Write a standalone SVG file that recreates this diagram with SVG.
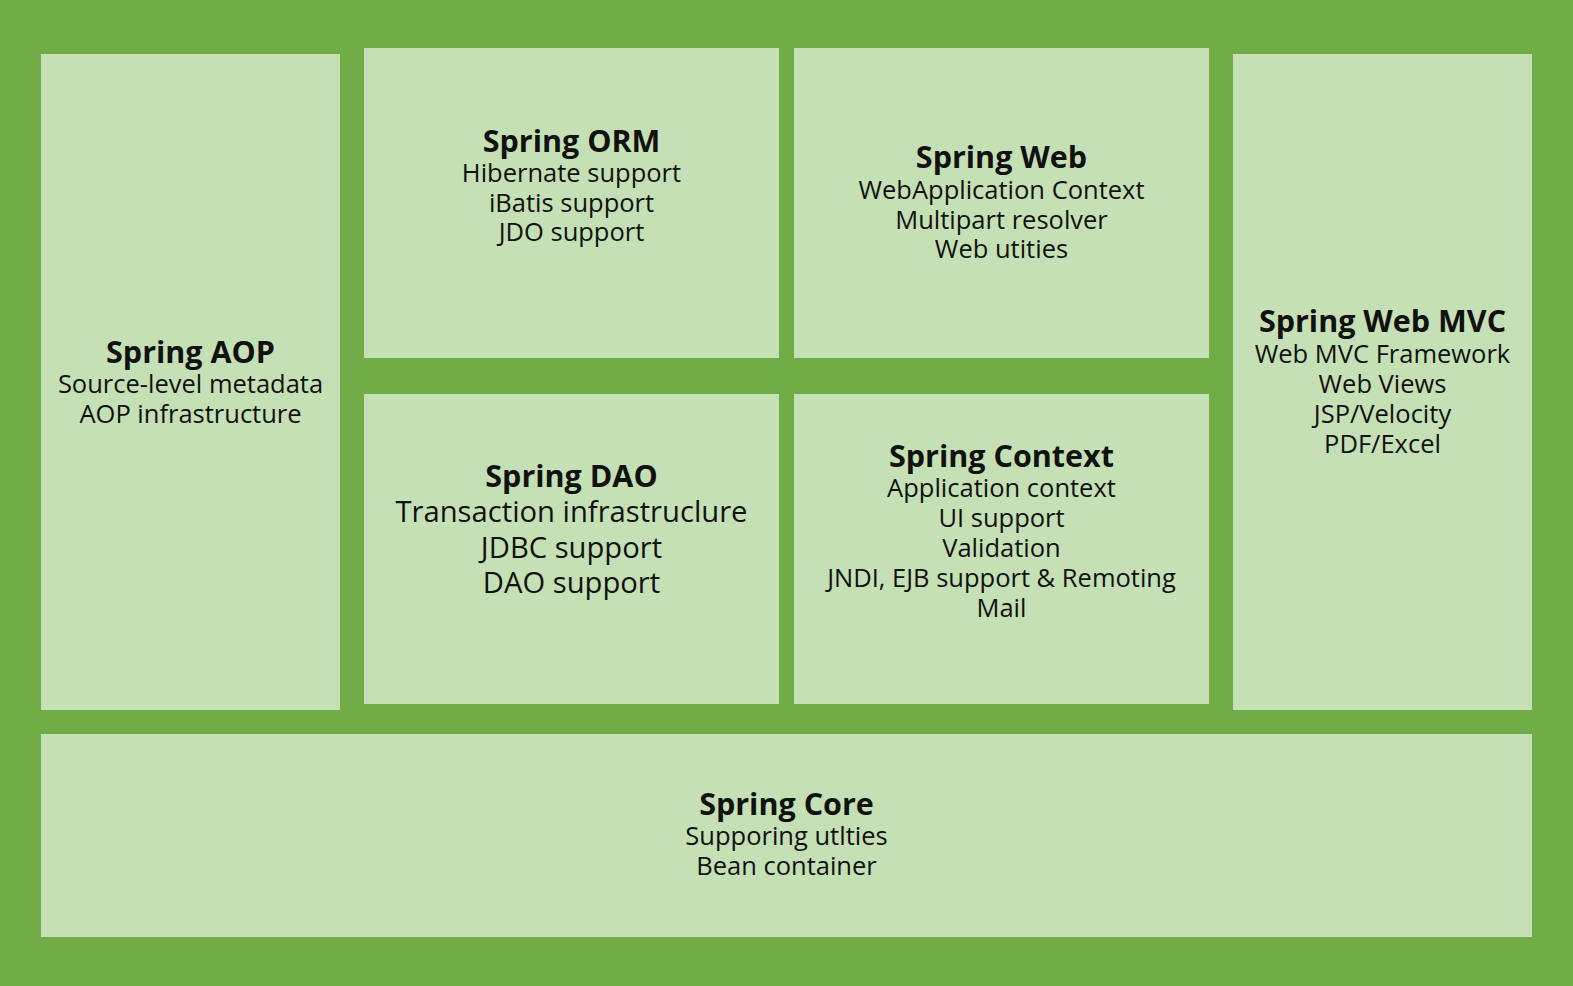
<svg xmlns="http://www.w3.org/2000/svg" width="1573" height="986" viewBox="0 0 1573 986">
<style>
.box{fill:#C5E0B4}
text{font-family:"Open Sans","Noto Sans","DejaVu Sans",sans-serif;fill:#111111;text-anchor:middle}
.t{font-weight:bold;font-size:30.5px}
.b{font-size:25.5px}
.d{font-size:29.2px}
</style>
<rect x="0" y="0" width="1573" height="986" fill="#70AD47"/>
<g id="aop">
<rect class="box" x="41" y="54" width="299" height="656"/>
<text class="t" x="190.5" y="363">Spring AOP</text>
<text class="b" x="190.5" y="393">Source-level metadata</text>
<text class="b" x="190.5" y="423">AOP infrastructure</text>
</g>
<g id="orm">
<rect class="box" x="364" y="48" width="415" height="310"/>
<text class="t" x="571.5" y="152">Spring ORM</text>
<text class="b" x="571.5" y="182">Hibernate support</text>
<text class="b" x="571.5" y="212">iBatis support</text>
<text class="b" x="571.5" y="241">JDO support</text>
</g>
<g id="web">
<rect class="box" x="794" y="48" width="415" height="310"/>
<text class="t" x="1001.5" y="168">Spring Web</text>
<text class="b" x="1001.5" y="199">WebApplication Context</text>
<text class="b" x="1001.5" y="229">Multipart resolver</text>
<text class="b" x="1001.5" y="258">Web utities</text>
</g>
<g id="dao">
<rect class="box" x="364" y="394" width="415" height="310"/>
<text class="t" x="571.5" y="487">Spring DAO</text>
<text class="d" x="571.5" y="522">Transaction infrastruclure</text>
<text class="d" x="571.5" y="558">JDBC support</text>
<text class="d" x="571.5" y="593">DAO support</text>
</g>
<g id="context">
<rect class="box" x="794" y="394" width="415" height="310"/>
<text class="t" x="1001.5" y="467">Spring Context</text>
<text class="b" x="1001.5" y="497">Application context</text>
<text class="b" x="1001.5" y="527">UI support</text>
<text class="b" x="1001.5" y="557">Validation</text>
<text class="b" x="1001.5" y="587">JNDI, EJB support &amp; Remoting</text>
<text class="b" x="1001.5" y="617">Mail</text>
</g>
<g id="mvc">
<rect class="box" x="1233" y="54" width="299" height="656"/>
<text class="t" x="1382.5" y="332">Spring Web MVC</text>
<text class="b" x="1382.5" y="363">Web MVC Framework</text>
<text class="b" x="1382.5" y="393">Web Views</text>
<text class="b" x="1382.5" y="423">JSP/Velocity</text>
<text class="b" x="1382.5" y="453">PDF/Excel</text>
</g>
<g id="core">
<rect class="box" x="41" y="734" width="1491" height="203"/>
<text class="t" x="786.5" y="815">Spring Core</text>
<text class="b" x="786.5" y="845">Supporing utlties</text>
<text class="b" x="786.5" y="875">Bean container</text>
</g>
<g id="connectors"/>
</svg>
